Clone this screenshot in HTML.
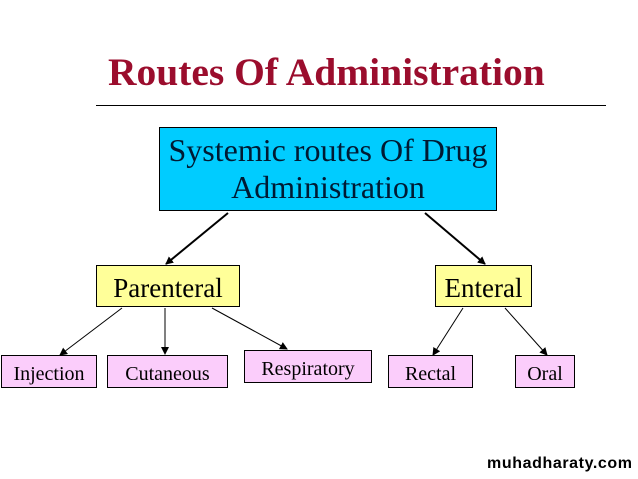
<!DOCTYPE html>
<html><head><style>
body{margin:0;width:638px;height:479px;background:#fff;position:relative;overflow:hidden;font-family:"Liberation Serif",serif;}
.b{position:absolute;border:1px solid #000;box-sizing:border-box;display:flex;align-items:center;justify-content:center;text-align:center;color:#000;}
.p{background:#fbcdfb;font-size:20px;padding-top:6px;}
.y{background:#ffff99;font-size:27px;padding-top:4px;}
</style></head><body>
<div style="position:absolute;left:108px;top:49px;font-size:39.5px;font-weight:bold;color:#9b0d2d;white-space:nowrap;">Routes Of Administration</div>
<div style="position:absolute;left:96px;top:105px;width:510px;height:1px;background:#000"></div>
<div class="b" style="left:159px;top:127px;width:338px;height:84px;background:#00ccff;font-size:32px;line-height:37px;color:#001a33">Systemic routes Of Drug<br>Administration</div>
<div class="b y" style="left:96px;top:265px;width:144px;height:42px">Parenteral</div>
<div class="b y" style="left:435px;top:265px;width:97px;height:42px">Enteral</div>
<div class="b p" style="left:1px;top:355px;width:96px;height:33px">Injection</div>
<div class="b p" style="left:107px;top:355px;width:121px;height:33px">Cutaneous</div>
<div class="b p" style="left:244px;top:350px;width:128px;height:33px">Respiratory</div>
<div class="b p" style="left:388px;top:355px;width:85px;height:33px">Rectal</div>
<div class="b p" style="left:515px;top:355px;width:60px;height:33px">Oral</div>
<svg width="638" height="479" style="position:absolute;left:0;top:0">
<defs><marker id="a" markerWidth="8" markerHeight="8" refX="7" refY="4" orient="auto" markerUnits="userSpaceOnUse"><path d="M0,0L8,4L0,8z" fill="#000"/></marker></defs>
<g stroke="#000" fill="none">
<line x1="228" y1="213" x2="166" y2="264" stroke-width="2" marker-end="url(#a)"/>
<line x1="425" y1="213" x2="485" y2="264" stroke-width="2" marker-end="url(#a)"/>
<line x1="122" y1="308" x2="60" y2="355" marker-end="url(#a)"/>
<line x1="165" y1="308" x2="165" y2="354" marker-end="url(#a)"/>
<line x1="212" y1="308" x2="287" y2="349" marker-end="url(#a)"/>
<line x1="463" y1="308" x2="433" y2="355" marker-end="url(#a)"/>
<line x1="505" y1="308" x2="547" y2="355" marker-end="url(#a)"/>
</g></svg>
<div style="position:absolute;left:487px;top:455px;font-family:'Liberation Sans',sans-serif;font-weight:bold;font-size:16px;letter-spacing:0.6px;color:#000">muhadharaty.com</div>
</body></html>
